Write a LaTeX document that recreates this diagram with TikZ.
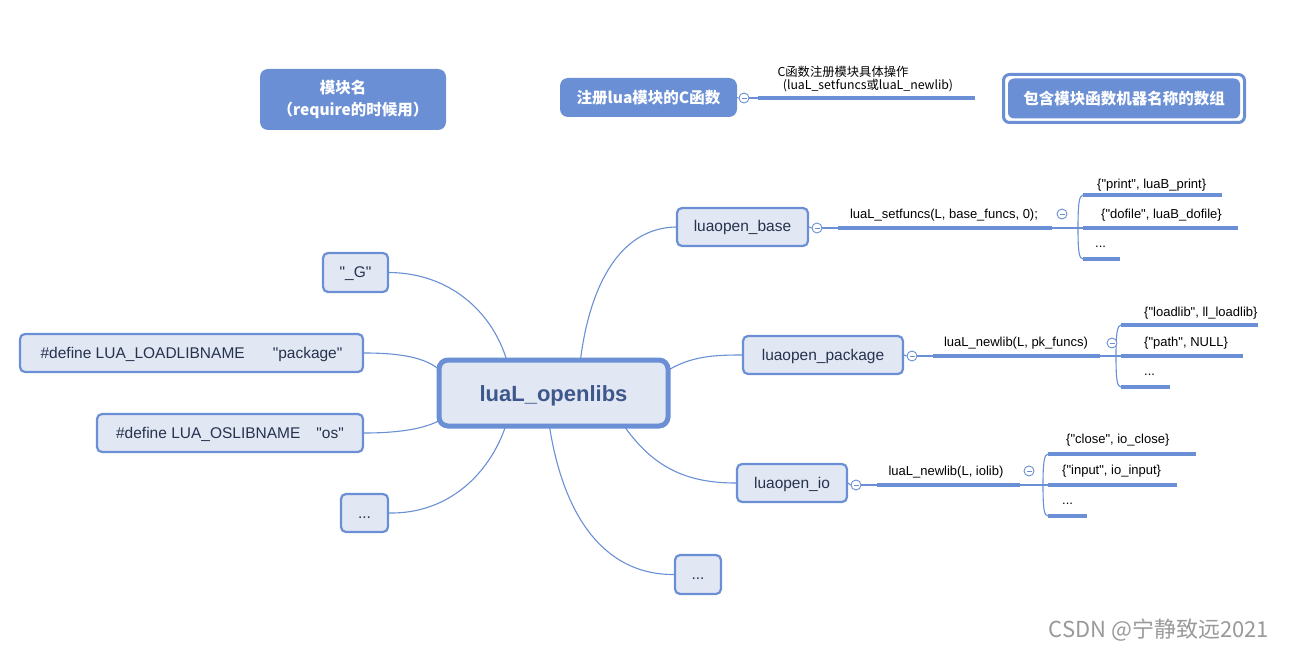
\documentclass[tikz,border=0pt]{standalone}
\usepackage{fontspec}
\setmainfont{Liberation Sans}
\newfontfamily\lat{Liberation Sans}
\newfontfamily\cjk{Noto Sans CJK SC}
\usetikzlibrary{calc}
\definecolor{mblue}{RGB}{106,143,212}
\definecolor{mfill}{RGB}{225,231,243}
\definecolor{mtext}{RGB}{38,50,78}
\definecolor{ctext}{RGB}{62,88,140}
\begin{document}
\begin{tikzpicture}[x=1pt,y=-1pt,
  box/.style={draw=mblue, fill=mfill, line width=2.2pt, rounded corners=5pt, inner sep=0pt, text=mtext, font=\lat\fontsize{15.5}{17}\selectfont, text height=12pt, text depth=2pt},
  hbox/.style={fill=mblue, rounded corners=8pt, inner sep=0pt, text=white, font=\cjk\bfseries\fontsize{15.5}{22}\selectfont, align=center},
  conn/.style={draw=mblue, line width=1.1pt},
  bar/.style={draw=mblue, line width=3.5pt},
  lbl/.style={inner sep=0pt, text=black, font=\lat\fontsize{13}{15}\selectfont},
  clbl/.style={inner sep=0pt, text=black, font=\cjk\fontsize{12.3}{14}\selectfont},
  col/.style={circle, draw=mblue, fill=white, line width=0.9pt, minimum size=10pt, inner sep=0pt,
    path picture={\draw[mblue, line width=0.9pt] ([xshift=-2.5pt]path picture bounding box.center) -- ([xshift=2.5pt]path picture bounding box.center);}},
]
\useasboundingbox (0,0) rectangle (1294,650);

% header
\node[hbox, minimum width=186, minimum height=61] (mod) at (353,99.5) {模块名\hspace*{20pt}\\（require的时候用）};
\node[hbox, minimum width=177, minimum height=39] (reg) at (648.5,97.5) {注册lua模块的C函数};
\node[col] (regc) at (744,98) {};
\coordinate (r1) at (758,98);
\coordinate (r2) at (975,98);
\draw[conn] (reg.east) -- (regc.west);
\draw[conn] (regc.east) -- (r1);
\draw[bar] (r1) -- (r2);
\node[clbl] (rl1) at (843,72) {C函数注册模块具体操作};
\node[clbl] (rl2) at (868,86) {(luaL\_setfuncs或luaL\_newlib)};
\node[draw=mblue, fill=white, line width=3pt, rounded corners=6pt, minimum width=241, minimum height=48, inner sep=0pt] (arrO) at (1124,98.5) {};
\node[hbox, rounded corners=6pt, minimum width=232, minimum height=40] (arr) at (1124,98.5) {包含模块函数机器名称的数组};

% center and children
\node[box, line width=5pt, rounded corners=9pt, minimum width=229, minimum height=66, text=ctext, font=\lat\bfseries\fontsize{22}{26}\selectfont, text height=18pt, text depth=2pt] (c) at (553.5,393) {luaL\_openlibs};
\node[box, minimum width=65, minimum height=39] (g) at (355.5,272.5) {"\_G"};
\node[box, minimum width=343, minimum height=38] (pk) at (191.5,353) {\#define LUA\_LOADLIBNAME\hspace{28pt}"package"};
\node[box, minimum width=266, minimum height=38] (os) at (230,433) {\#define LUA\_OSLIBNAME\hspace{16pt}"os"};
\node[box, minimum width=47, minimum height=38] (ld) at (364.5,513) {...};
\node[box, minimum width=46, minimum height=39] (bd) at (698,574.5) {...};
\node[box, minimum width=131, minimum height=38] (base) at (742.5,227) {luaopen\_base};
\node[box, minimum width=160, minimum height=38] (pkg) at (823,355) {luaopen\_package};
\node[box, minimum width=110, minimum height=38] (io) at (792,483) {luaopen\_io};

% main connectors
\draw[conn] ($(c.north)+(27,2)$) .. controls (590,285) and (620,228) .. (base.west);
\draw[conn] ($(c.east)+(-2,-23)$) .. controls (692,356) and (715,355) .. (pkg.west);
\draw[conn] ($(c.south)+(71,-2)$) .. controls (655,470) and (690,483) .. (io.west);
\draw[conn] ($(c.south)+(-4,-2)$) .. controls (565,525) and (610,575) .. (bd.west);
\draw[conn] (g.east) .. controls (450,273) and (492,312) .. ($(c.north)+(-47,2)$);
\draw[conn] (pk.east) .. controls (402,353) and (425,358) .. ($(c.west)+(2,-24)$);
\draw[conn] (os.east) .. controls (402,433) and (425,428) .. ($(c.west)+(2,28)$);
\draw[conn] (ld.east) .. controls (450,514) and (490,472) .. ($(c.south)+(-48,-2)$);

% base branch
\node[col] (bc) at (817,228) {};
\coordinate (b1) at (838,228);
\coordinate (b2) at (1052,228);
\coordinate (bj) at (1078,228);
\coordinate (bt) at (1083,195);
\coordinate (bb) at (1083,259);
\draw[conn] (base.east) -- (bc.west);
\draw[conn] (bc.east) -- (b1);
\draw[bar] (b1) -- (b2);
\draw[conn] (b2) -- (1083,228);
\draw[conn] (bj) .. controls (1078,205) and (1079,195) .. (bt);
\draw[conn] (bj) .. controls (1078,251) and (1079,259) .. (bb);
\draw[bar] (bt) -- (1222,195);
\draw[bar] (1083,228) -- (1238,228);
\draw[bar] (bb) -- (1120,259);
\node[lbl] (bl) at (944,215) {luaL\_setfuncs(L, base\_funcs, 0);};
\node[col] (bc2) at (1062,214) {};
\node[lbl, anchor=west] (bl1) at (1097,185) {\{"print", luaB\_print\}};
\node[lbl, anchor=west] (bl2) at (1101,215) {\{"dofile", luaB\_dofile\}};
\node[lbl, anchor=west] (bl3) at (1095,247) {...};

% package branch
\node[col] (pc) at (912,356) {};
\coordinate (p1) at (933,356);
\coordinate (p2) at (1100,356);
\coordinate (pj) at (1116,356);
\coordinate (pt) at (1121,325);
\coordinate (pb) at (1121,387);
\draw[conn] (pkg.east) -- (pc.west);
\draw[conn] (pc.east) -- (p1);
\draw[bar] (p1) -- (p2);
\draw[conn] (p2) -- (1121,356);
\draw[conn] (pj) .. controls (1116,335) and (1117,325) .. (pt);
\draw[conn] (pj) .. controls (1116,379) and (1117,387) .. (pb);
\draw[bar] (pt) -- (1258,325);
\draw[bar] (1121,356) -- (1243,356);
\draw[bar] (pb) -- (1170,387);
\node[lbl] (pl) at (1016,343) {luaL\_newlib(L, pk\_funcs)};
\node[col] (pc2) at (1112,343) {};
\node[lbl, anchor=west] (pl1) at (1144,313) {\{"loadlib", ll\_loadlib\}};
\node[lbl, anchor=west] (pl2) at (1144,343) {\{"path", NULL\}};
\node[lbl, anchor=west] (pl3) at (1144,375) {...};

% io branch
\node[col] (ic) at (856,485) {};
\coordinate (i1) at (877,485);
\coordinate (i2) at (1020,485);
\coordinate (ij) at (1043,485);
\coordinate (it) at (1048,454);
\coordinate (ib) at (1048,516);
\draw[conn] (io.east) -- (ic.west);
\draw[conn] (ic.east) -- (i1);
\draw[bar] (i1) -- (i2);
\draw[conn] (i2) -- (1048,485);
\draw[conn] (ij) .. controls (1043,464) and (1044,454) .. (it);
\draw[conn] (ij) .. controls (1043,508) and (1044,516) .. (ib);
\draw[bar] (it) -- (1196,454);
\draw[bar] (1048,485) -- (1177,485);
\draw[bar] (ib) -- (1087,516);
\node[lbl] (il) at (946,472) {luaL\_newlib(L, iolib)};
\node[col] (ic2) at (1029,471) {};
\node[lbl, anchor=west] (il1) at (1066,440) {\{"close", io\_close\}};
\node[lbl, anchor=west] (il2) at (1062,471) {\{"input", io\_input\}};
\node[lbl, anchor=west] (il3) at (1062,504) {...};

% watermark
\node[inner sep=0pt, text=black!40, font=\cjk\fontsize{22}{26}\selectfont] (wm) at (1159,630) {CSDN @宁静致远2021};
\end{tikzpicture}
\end{document}
